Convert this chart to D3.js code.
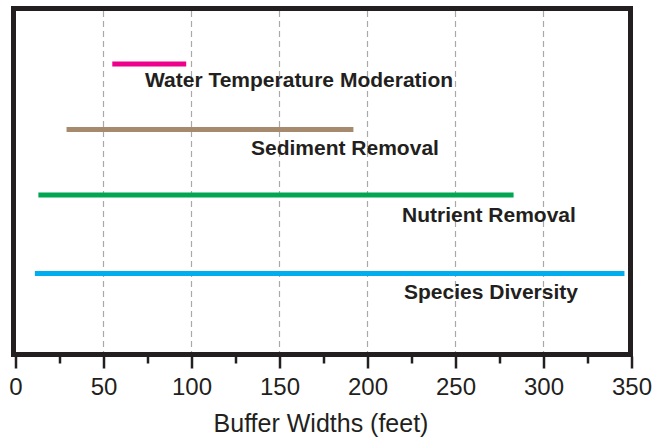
<!DOCTYPE html>
<html>
<head>
<meta charset="utf-8">
<script src="https://cdn.jsdelivr.net/npm/d3@7"></script>
<style>
  html, body { margin: 0; padding: 0; background: #fff; }
  svg { display: block; }
</style>
</head>
<body>
<svg id="chart" width="664" height="437"></svg>
<script>
// ---- data ----
const categories = ["Water Temperature Moderation", "Sediment Removal", "Nutrient Removal", "Species Diversity"];
const minWidths = [55, 29, 13, 11];
const maxWidths = [97, 192, 283, 346];
const majorTicks = [0, 50, 100, 150, 200, 250, 300, 350];
const minorTicks = [25, 75, 125, 175, 225, 275, 325];
const barColors = ["#EC008C", "#A68A6E", "#00A651", "#00AEEF"];
const xTitle = "Buffer Widths (feet)";

// ---- layout ----
const frame = { left: 13.5, top: 8.5, right: 630.5, bottom: 354.5 };
const barY = [64, 129.5, 195, 273.5];
const labelX = [145, 251, 402, 404];
const labelY = [87, 155, 222, 299];
const ink = "#231F20";

const svg = d3.select("#chart");
const x = d3.scaleLinear().domain([0, 350]).range([15.5, 631.5]);
const y = d3.scaleOrdinal().domain(categories).range(barY);
const ly = d3.scaleOrdinal().domain(categories).range(labelY);
const lx = d3.scaleOrdinal().domain(categories).range(labelX);
const color = d3.scaleOrdinal().domain(categories).range(barColors);

const data = categories.map((c, i) => ({ name: c, lo: minWidths[i], hi: maxWidths[i] }));

// gridlines
svg.append("g").selectAll("line")
  .data(majorTicks.filter(t => t > 0 && t < 350))
  .join("line")
  .attr("x1", d => x(d)).attr("x2", d => x(d))
  .attr("y1", frame.top + 2.5).attr("y2", frame.bottom - 2.5)
  .attr("stroke", "#a9a9a9")
  .attr("stroke-width", 1.2)
  .attr("stroke-dasharray", "6,4");

// bars
svg.append("g").selectAll("line")
  .data(data)
  .join("line")
  .attr("x1", d => x(d.lo)).attr("x2", d => x(d.hi))
  .attr("y1", d => y(d.name)).attr("y2", d => y(d.name))
  .attr("stroke", d => color(d.name))
  .attr("stroke-width", 5);

// labels
svg.append("g").selectAll("text")
  .data(data)
  .join("text")
  .attr("x", d => lx(d.name))
  .attr("y", d => ly(d.name))
  .attr("font-family", "Liberation Sans, Arial, Helvetica, sans-serif")
  .attr("font-weight", "bold")
  .attr("font-size", 21)
  .attr("fill", ink)
  .text(d => d.name);

// frame
svg.append("rect")
  .attr("x", frame.left).attr("y", frame.top)
  .attr("width", frame.right - frame.left)
  .attr("height", frame.bottom - frame.top)
  .attr("fill", "none")
  .attr("stroke", ink)
  .attr("stroke-width", 5);

// axis
const axisG = svg.append("g").attr("transform", `translate(0,${frame.bottom + 2})`);
const axis = d3.axisBottom(x).tickValues(majorTicks).tickSize(12).tickPadding(9).tickFormat(d3.format("d"));
axisG.call(axis);
axisG.select(".domain").remove();
axisG.selectAll(".tick line").attr("stroke", ink).attr("stroke-width", 2.5);
axisG.selectAll(".tick text")
  .attr("font-family", "Liberation Sans, Arial, Helvetica, sans-serif")
  .attr("font-size", 24)
  .attr("fill", ink);

const minorG = svg.append("g").attr("transform", `translate(0,${frame.bottom + 2})`);
minorG.call(d3.axisBottom(x).tickValues(minorTicks).tickSize(7).tickFormat(""));
minorG.select(".domain").remove();
minorG.selectAll(".tick line").attr("stroke", ink).attr("stroke-width", 2.5);

// axis title
svg.append("text")
  .attr("x", 321).attr("y", 432)
  .attr("text-anchor", "middle")
  .attr("font-family", "Liberation Sans, Arial, Helvetica, sans-serif")
  .attr("font-size", 25)
  .attr("fill", ink)
  .text(xTitle);
</script>
</body>
</html>
